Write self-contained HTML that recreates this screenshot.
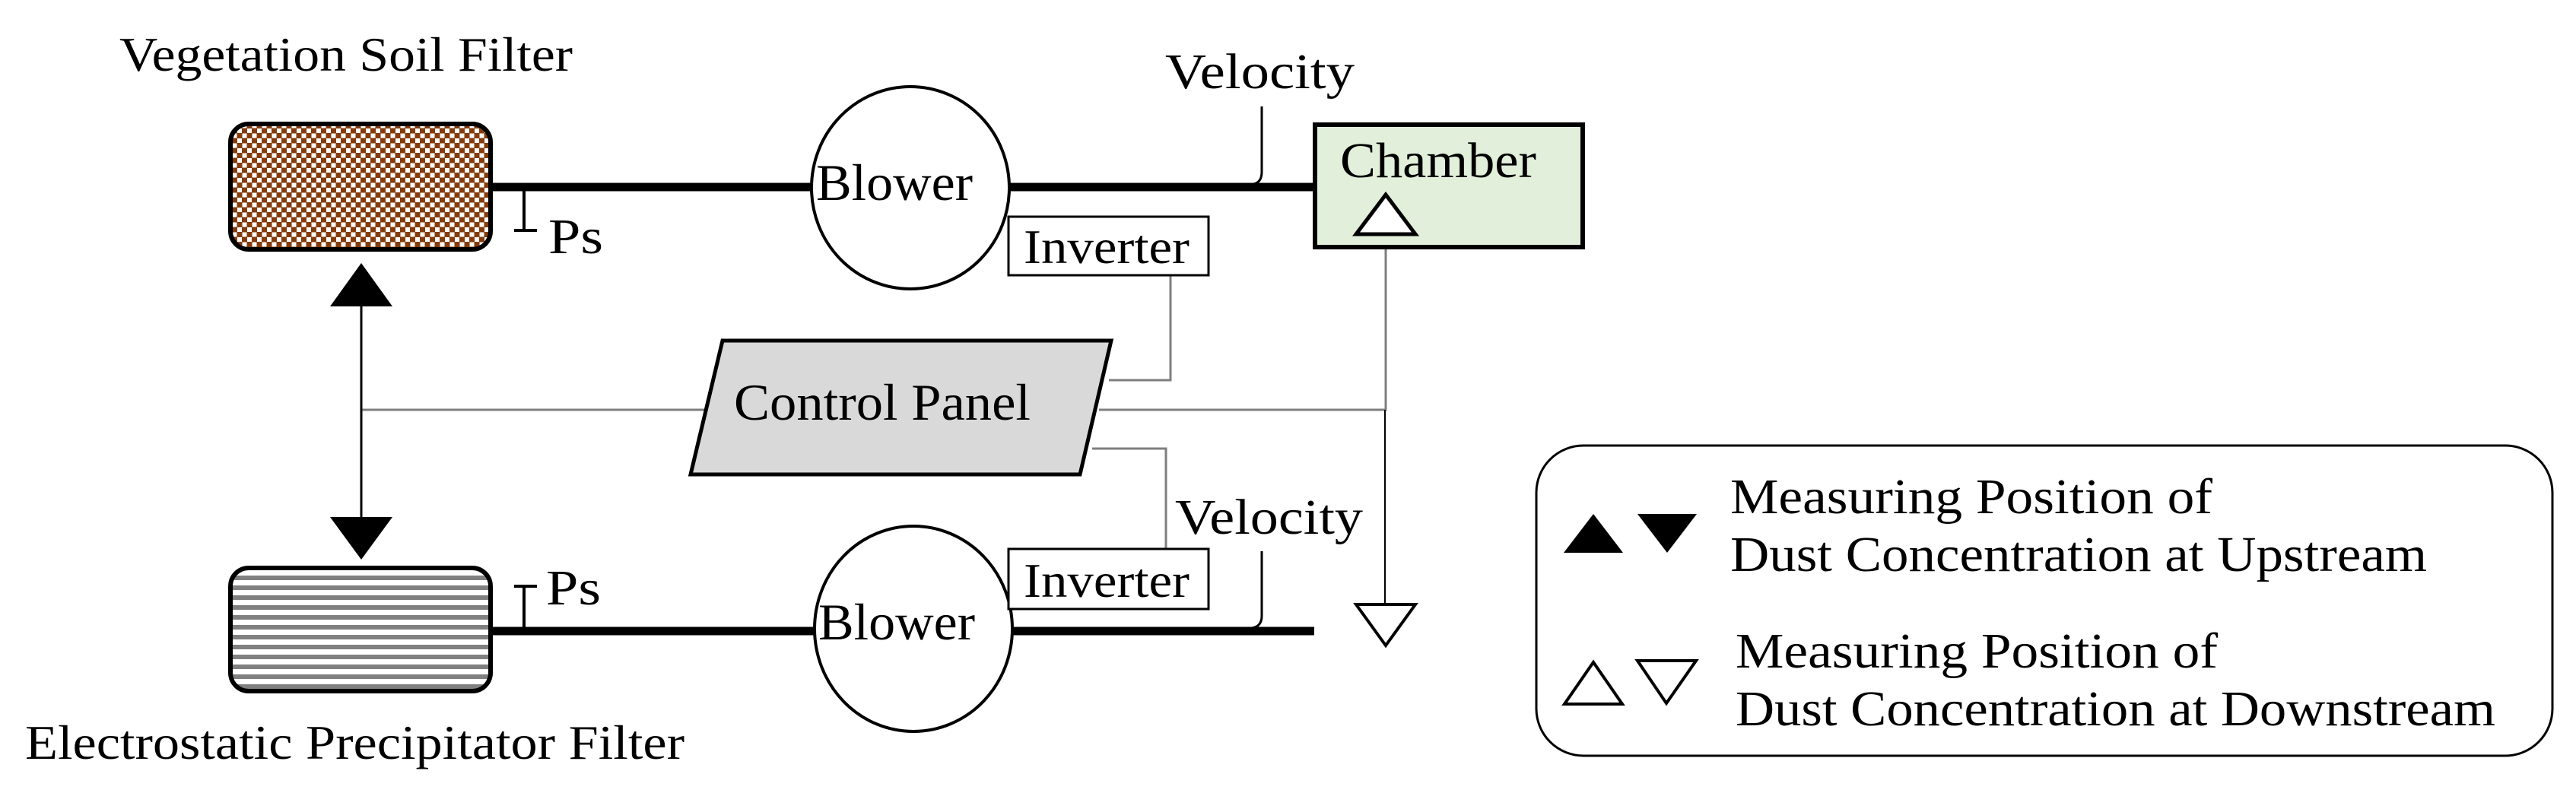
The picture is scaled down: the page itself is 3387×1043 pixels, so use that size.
<!DOCTYPE html>
<html><head><meta charset="utf-8"><style>
html,body{margin:0;padding:0;background:#fff;}
svg{display:block;}
svg text{font-family:"Liberation Serif","Times New Roman",Times,serif;fill:#000;}
</style></head><body>
<svg width="3387" height="1043" viewBox="0 0 3387 1043" xmlns="http://www.w3.org/2000/svg">
<defs>
<pattern id="soil" width="13" height="13" patternUnits="userSpaceOnUse">
<rect width="13" height="13" fill="#843c0c"/>
<rect x="0" y="0" width="6" height="6" fill="#fff"/>
<rect x="6.5" y="6.5" width="6" height="6" fill="#fff"/>
</pattern>
<pattern id="stripe" width="13" height="13" patternUnits="userSpaceOnUse" y="3">
<rect width="13" height="13" fill="#fff"/>
<rect y="0" width="13" height="6" fill="#808080"/>
</pattern>
</defs>
<g font-family="Liberation Serif, Times New Roman, Times, serif">
<text x="157" y="93" font-size="64" textLength="596" lengthAdjust="spacingAndGlyphs">Vegetation Soil Filter</text>
<text x="33" y="998" font-size="64" textLength="867" lengthAdjust="spacingAndGlyphs">Electrostatic Precipitator Filter</text>

<rect x="303" y="163" width="342" height="165" rx="24" fill="url(#soil)" stroke="#000" stroke-width="6"/>
<rect x="303" y="747" width="342" height="162" rx="24" fill="url(#stripe)" stroke="#000" stroke-width="6"/>

<line x1="645" y1="246" x2="1068" y2="246" stroke="#000" stroke-width="11"/>
<line x1="1328" y1="246" x2="1728" y2="246" stroke="#000" stroke-width="11"/>
<line x1="645" y1="830" x2="1073" y2="830" stroke="#000" stroke-width="11"/>
<line x1="1331" y1="830" x2="1728" y2="830" stroke="#000" stroke-width="11"/>

<line x1="689" y1="246" x2="689" y2="303" stroke="#000" stroke-width="4"/>
<line x1="676" y1="303" x2="706" y2="303" stroke="#000" stroke-width="4"/>
<text x="721" y="333" font-size="66" textLength="72" lengthAdjust="spacingAndGlyphs">Ps</text>
<line x1="689" y1="830" x2="689" y2="771" stroke="#000" stroke-width="4"/>
<line x1="676" y1="771" x2="706" y2="771" stroke="#000" stroke-width="4"/>
<text x="718" y="795" font-size="66" textLength="72" lengthAdjust="spacingAndGlyphs">Ps</text>

<ellipse cx="1197" cy="247" rx="130" ry="133" fill="#fff" stroke="#000" stroke-width="4"/>
<text x="1073" y="263" font-size="68" textLength="206" lengthAdjust="spacingAndGlyphs">Blower</text>
<ellipse cx="1201" cy="827" rx="130" ry="135" fill="#fff" stroke="#000" stroke-width="4"/>
<text x="1076" y="841" font-size="68" textLength="206" lengthAdjust="spacingAndGlyphs">Blower</text>

<text x="1532" y="116" font-size="66" textLength="249" lengthAdjust="spacingAndGlyphs">Velocity</text>
<path d="M1659 140 L1659 226 Q1659 240 1648 242" fill="none" stroke="#000" stroke-width="3"/>
<text x="1545" y="702" font-size="66" textLength="247" lengthAdjust="spacingAndGlyphs">Velocity</text>
<path d="M1659 725 L1659 810 Q1659 824 1646 826" fill="none" stroke="#000" stroke-width="3"/>

<g stroke="#7f7f7f" stroke-width="3" fill="none">
<polyline points="1539,362 1539,500 1458,500"/>
<line x1="475" y1="539" x2="928" y2="539"/>
<polyline points="1445,539 1822,539 1822,309"/>
<polyline points="1436,590 1533,590 1533,721"/>
</g>
<line x1="1821" y1="539" x2="1821" y2="795" stroke="#000" stroke-width="2"/>

<rect x="1326" y="285" width="263" height="77" fill="#fff" stroke="#000" stroke-width="3"/>
<text x="1346" y="346" font-size="64" textLength="218" lengthAdjust="spacingAndGlyphs">Inverter</text>
<rect x="1326" y="722" width="263" height="79" fill="#fff" stroke="#000" stroke-width="3"/>
<text x="1346" y="785" font-size="64" textLength="218" lengthAdjust="spacingAndGlyphs">Inverter</text>

<polygon points="950,448 1461,448 1420,624 908,624" fill="#d9d9d9" stroke="#000" stroke-width="5"/>
<text x="965" y="552" font-size="68" textLength="390" lengthAdjust="spacingAndGlyphs">Control Panel</text>

<rect x="1729" y="164" width="352" height="161" fill="#e2efda" stroke="#000" stroke-width="6"/>
<text x="1762" y="233" font-size="66" textLength="258" lengthAdjust="spacingAndGlyphs">Chamber</text>
<polygon points="1822,256 1861,308 1783,308" fill="#fff" stroke="#000" stroke-width="5"/>
<polygon points="1783,795 1861,795 1822,849" fill="#fff" stroke="#000" stroke-width="4"/>

<line x1="475" y1="400" x2="475" y2="682" stroke="#000" stroke-width="3"/>
<polygon points="475,346 516,403 434,403" fill="#000"/>
<polygon points="434,680 516,680 475,736" fill="#000"/>

<rect x="2020" y="586" width="1336" height="408" rx="62" fill="#fff" stroke="#000" stroke-width="3"/>
<polygon points="2095,676 2134,727 2056,727" fill="#000"/>
<polygon points="2153,676 2231,676 2192,727" fill="#000"/>
<polygon points="2095,871 2133,926 2057,926" fill="#fff" stroke="#000" stroke-width="4"/>
<polygon points="2153,869 2230,869 2191,925" fill="#fff" stroke="#000" stroke-width="4"/>
<text x="2275" y="675" font-size="66" textLength="634" lengthAdjust="spacingAndGlyphs">Measuring Position of</text>
<text x="2275" y="751" font-size="66" textLength="916" lengthAdjust="spacingAndGlyphs">Dust Concentration at Upstream</text>
<text x="2282" y="878" font-size="66" textLength="634" lengthAdjust="spacingAndGlyphs">Measuring Position of</text>
<text x="2282" y="954" font-size="66" textLength="999" lengthAdjust="spacingAndGlyphs">Dust Concentration at Downstream</text>
</g>
</svg>
</body></html>
